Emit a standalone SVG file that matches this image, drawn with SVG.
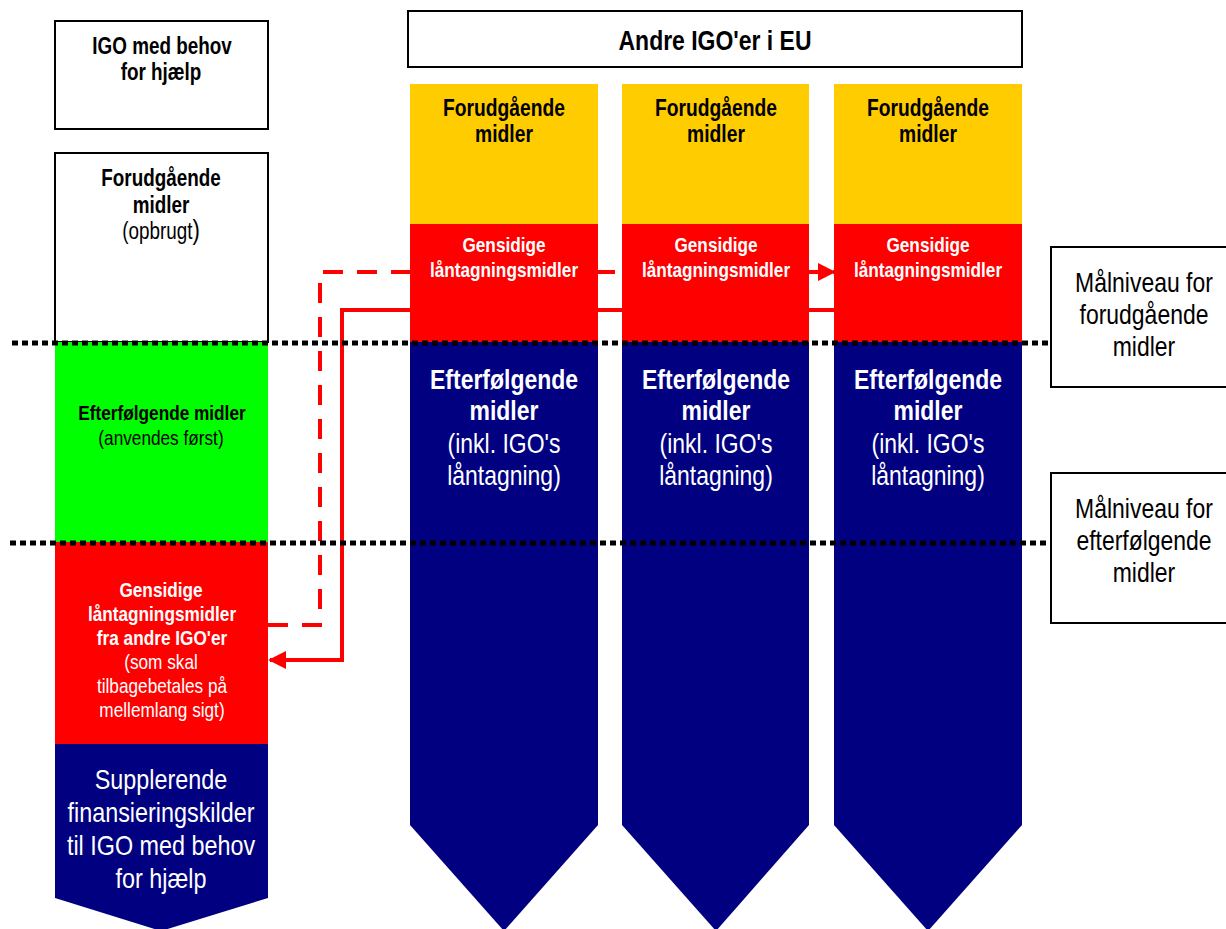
<svg xmlns="http://www.w3.org/2000/svg" width="1226" height="929" viewBox="0 0 1226 929">
<defs>
<style>
text{font-family:"Liberation Sans",Arial,sans-serif;text-anchor:middle}
.b{font-weight:bold}
.w{fill:#fff}
.box{fill:#fff;stroke:#000;stroke-width:2}
.dot{stroke:#000;stroke-width:5;stroke-dasharray:6 4;fill:none}
.con{stroke:#f00;stroke-width:4;fill:none}
</style>
<marker id="ah" viewBox="0 0 10 10" refX="9" refY="5" markerWidth="4.5" markerHeight="4.5" orient="auto" markerUnits="strokeWidth">
<path d="M0,0 L10,5 L0,10 z" fill="#f00"/>
</marker>
</defs>
<rect width="1226" height="929" fill="#fff"/>

<g id="igo-box">
<rect class="box" x="55" y="21" width="213" height="108"/>
<text class="b" font-size="23" transform="translate(162,54) scale(0.82,1)">IGO med behov</text>
<text class="b" font-size="23" transform="translate(161,80) scale(0.82,1)">for hjælp</text>
</g>

<g id="left-foru">
<rect class="box" x="55" y="153" width="213" height="189"/>
<text class="b" font-size="23" transform="translate(161,186) scale(0.82,1)">Forudgående</text>
<text class="b" font-size="23" transform="translate(161,213) scale(0.82,1)">midler</text>
<text font-size="23" transform="translate(161,239) scale(0.82,1)">(opbrugt<tspan font-size="27">)</tspan></text>
</g>

<g id="left-efter">
<rect x="55" y="342" width="213" height="200" fill="#00ff00"/>
<text class="b" font-size="21" transform="translate(162,420) scale(0.82,1)">Efterfølgende midler</text>
<text font-size="21" transform="translate(161,445) scale(0.82,1)">(anvendes først)</text>
</g>

<g id="left-gens">
<rect x="55" y="542" width="213" height="202" fill="#f00"/>
<text class="b w" font-size="21" transform="translate(161,597) scale(0.82,1)">Gensidige</text>
<text class="b w" font-size="21" transform="translate(162,621) scale(0.82,1)">låntagningsmidler</text>
<text class="b w" font-size="21" transform="translate(162,645) scale(0.82,1)">fra andre IGO'er</text>
<text class="w" font-size="21" transform="translate(161,669) scale(0.82,1)">(som skal</text>
<text class="w" font-size="21" transform="translate(162,693) scale(0.82,1)">tilbagebetales på</text>
<text class="w" font-size="21" transform="translate(162,717) scale(0.82,1)">mellemlang sigt)</text>
</g>

<g id="left-suppl">
<path d="M55,744 H268 V898 L161,931 L55,898 Z" fill="#000080"/>
<text class="w" font-size="28.5" transform="translate(161,789) scale(0.82,1)">Supplerende</text>
<text class="w" font-size="28.5" transform="translate(161,822) scale(0.82,1)">finansieringskilder</text>
<text class="w" font-size="28.5" transform="translate(161,855) scale(0.82,1)">til IGO med behov</text>
<text class="w" font-size="28.5" transform="translate(161,888) scale(0.82,1)">for hjælp</text>
</g>

<g id="andre">
<rect class="box" x="408" y="11" width="614" height="56"/>
<text class="b" font-size="28" transform="translate(715,50) scale(0.82,1)">Andre IGO'er i EU</text>
</g>

<g id="connectors">
<path class="con" d="M268,625 H320 V272 H834" stroke-dasharray="20 14" marker-end="url(#ah)"/>
<path class="con" d="M834,310 H342 V660 H270" marker-end="url(#ah)"/>
</g>

<g id="col1">
<rect x="410" y="84" width="188" height="140" fill="#ffcc00"/>
<rect x="410" y="224" width="188" height="118" fill="#f00"/>
<path d="M410,342 H598 V825 L504,931 L410,825 Z" fill="#000080"/>
<text class="b" font-size="23.5" transform="translate(504,116) scale(0.82,1)">Forudgående</text>
<text class="b" font-size="23.5" transform="translate(504,142) scale(0.82,1)">midler</text>
<text class="b w" font-size="21" transform="translate(504,252) scale(0.82,1)">Gensidige</text>
<text class="b w" font-size="21" transform="translate(504,277) scale(0.82,1)">låntagningsmidler</text>
<text class="b w" font-size="28" transform="translate(504,389) scale(0.82,1)">Efterfølgende</text>
<text class="b w" font-size="28" transform="translate(504,420) scale(0.82,1)">midler</text>
<text class="w" font-size="28" transform="translate(504,453) scale(0.82,1)">(inkl. IGO's</text>
<text class="w" font-size="28" transform="translate(504,485) scale(0.82,1)">låntagning)</text>
</g>

<g id="col2">
<rect x="622" y="84" width="187" height="140" fill="#ffcc00"/>
<rect x="622" y="224" width="187" height="118" fill="#f00"/>
<path d="M622,342 H809 V825 L716,931 L622,825 Z" fill="#000080"/>
<text class="b" font-size="23.5" transform="translate(716,116) scale(0.82,1)">Forudgående</text>
<text class="b" font-size="23.5" transform="translate(716,142) scale(0.82,1)">midler</text>
<text class="b w" font-size="21" transform="translate(716,252) scale(0.82,1)">Gensidige</text>
<text class="b w" font-size="21" transform="translate(716,277) scale(0.82,1)">låntagningsmidler</text>
<text class="b w" font-size="28" transform="translate(716,389) scale(0.82,1)">Efterfølgende</text>
<text class="b w" font-size="28" transform="translate(716,420) scale(0.82,1)">midler</text>
<text class="w" font-size="28" transform="translate(716,453) scale(0.82,1)">(inkl. IGO's</text>
<text class="w" font-size="28" transform="translate(716,485) scale(0.82,1)">låntagning)</text>
</g>

<g id="col3">
<rect x="834" y="84" width="188" height="140" fill="#ffcc00"/>
<rect x="834" y="224" width="188" height="118" fill="#f00"/>
<path d="M834,342 H1022 V825 L928,931 L834,825 Z" fill="#000080"/>
<text class="b" font-size="23.5" transform="translate(928,116) scale(0.82,1)">Forudgående</text>
<text class="b" font-size="23.5" transform="translate(928,142) scale(0.82,1)">midler</text>
<text class="b w" font-size="21" transform="translate(928,252) scale(0.82,1)">Gensidige</text>
<text class="b w" font-size="21" transform="translate(928,277) scale(0.82,1)">låntagningsmidler</text>
<text class="b w" font-size="28" transform="translate(928,389) scale(0.82,1)">Efterfølgende</text>
<text class="b w" font-size="28" transform="translate(928,420) scale(0.82,1)">midler</text>
<text class="w" font-size="28" transform="translate(928,453) scale(0.82,1)">(inkl. IGO's</text>
<text class="w" font-size="28" transform="translate(928,485) scale(0.82,1)">låntagning)</text>
</g>

<g id="levels">
<line class="dot" x1="12" y1="343" x2="1050" y2="343"/>
<line class="dot" x1="10" y1="543" x2="1050" y2="543"/>
</g>

<g id="target-foru">
<rect class="box" x="1051" y="247" width="180" height="140"/>
<text font-size="28" transform="translate(1144,292) scale(0.82,1)">Målniveau for</text>
<text font-size="28" transform="translate(1144,324) scale(0.82,1)">forudgående</text>
<text font-size="28" transform="translate(1144,356) scale(0.82,1)">midler</text>
</g>

<g id="target-efter">
<rect class="box" x="1051" y="473" width="180" height="150"/>
<text font-size="28" transform="translate(1144,518) scale(0.82,1)">Målniveau for</text>
<text font-size="28" transform="translate(1144,550) scale(0.82,1)">efterfølgende</text>
<text font-size="28" transform="translate(1144,582) scale(0.82,1)">midler</text>
</g>
</svg>
